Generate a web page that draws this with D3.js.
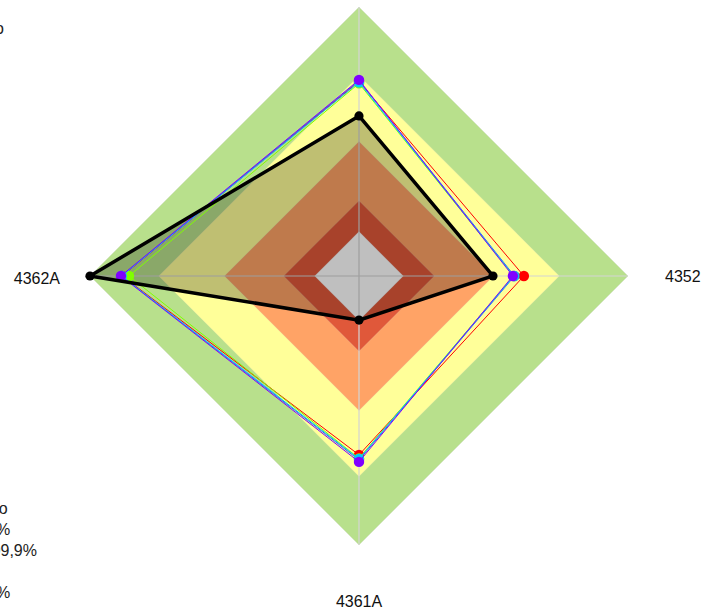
<!DOCTYPE html>
<html>
<head>
<meta charset="utf-8">
<script src="https://cdn.jsdelivr.net/npm/d3@7"></script>
<style>
  body { margin: 0; background: #fff; }
  svg { display: block; font-family: "Liberation Sans", Arial, sans-serif; }
</style>
</head>
<body>
<svg id="chart" width="701" height="610"></svg>
<script>
// axes, clockwise from the top
const axes = ['4353', '4352', '4361A', '4362A'];

// background bands (outer edge of each band, 0-100)
const bandLevels = [100, 74.5, 50, 28, 16.5];
const bandColors = ['#b8e08c', '#ffff99', '#ffa366', '#e0583a', '#ffffff'];

// legend texts (only their right ends are visible in the frame)
const legendTitle = 'Perfil de rendimiento por grupo';
const bandLabels = ['Intervalo', '16 - 50%', '84,1 - 99,9%', '< 2%', '50 - 84%'];

// series values per axis (top, right, bottom, left)
const seriesColors = ['#ff0000', '#2f5cff', '#80ff00', '#00c8ff', '#8000ff', '#000000'];
const series1 = [72.3, 61.3, 66.5, 88.0];
const series2 = [72.6, 57.8, 68.4, 88.3];
const series3 = [71.6, 57.5, 67.8, 85.5];
const series4 = [72.0, 57.6, 68.0, 88.2];
const series5 = [72.9, 57.2, 69.1, 88.5];
const series6 = [59.5, 49.8, 16.4, 100];
const seriesValues = [series1, series2, series3, series4, series5, series6];

const svg = d3.select('#chart');
const cx = 359, cy = 276, R = 269;

const r = d3.scaleLinear().domain([0, 100]).range([0, R]);
const step = 2 * Math.PI / axes.length;
const ang = (d, i) => i * step;

const g = svg.append('g').attr('transform', `translate(${cx},${cy})`);

const radial = d3.lineRadial()
    .angle(ang)
    .curve(d3.curveLinearClosed);

const line = d3.lineRadial()
    .angle((d, i) => i * step)
    .radius(d => r(d))
    .curve(d3.curveLinearClosed);

// bands
g.selectAll('path.band')
    .data(bandLevels)
    .enter()
    .append('path')
    .attr('class', 'band')
    .attr('d', lv => radial.radius(() => r(lv))(axes))
    .attr('fill', (d, i) => bandColors[i])
    .attr('stroke', '#c8c8c8')
    .attr('stroke-opacity', 0.35)
    .attr('stroke-width', 0.6);

// axis spokes
g.selectAll('line.spoke')
    .data(axes)
    .enter()
    .append('line')
    .attr('class', 'spoke')
    .attr('x1', 0).attr('y1', 0)
    .attr('x2', (d, i) => r(100) * Math.sin(ang(d, i)))
    .attr('y2', (d, i) => -r(100) * Math.cos(ang(d, i)))
    .attr('stroke', '#d4d4d4')
    .attr('stroke-width', 1.2);

const mainIdx = seriesValues.length - 1;

// shaded area of the main series goes under the other lines
g.append('path')
    .attr('d', line(seriesValues[mainIdx]))
    .attr('fill', 'rgba(0,0,0,0.25)')
    .attr('stroke', 'none');

// series lines and points
seriesValues.forEach((vals, s) => {
    const col = seriesColors[s];
    const isMain = s === mainIdx;

    g.append('path')
        .attr('d', line(vals))
        .attr('fill', 'none')
        .attr('stroke', col)
        .attr('stroke-width', isMain ? 3.5 : 1)
        .attr('stroke-linejoin', 'miter');

    g.selectAll(null)
        .data(vals)
        .enter()
        .append('circle')
        .attr('cx', (d, i) => r(d) * Math.sin(i * step))
        .attr('cy', (d, i) => -r(d) * Math.cos(i * step))
        .attr('r', isMain ? 4.6 : 5.2)
        .attr('fill', col);
});

// axis labels (the top one sits above the frame, as in the original crop)
const labelPos = [
    { x: 0, y: -R - 50, anchor: 'middle' },
    { x: R + 37, y: 6, anchor: 'start' },
    { x: 0, y: R + 62, anchor: 'middle' },
    { x: -R - 30, y: 8, anchor: 'end' }
];
g.selectAll('text.axis')
    .data(axes)
    .enter()
    .append('text')
    .attr('class', 'axis')
    .attr('x', (d, i) => labelPos[i].x)
    .attr('y', (d, i) => labelPos[i].y)
    .attr('text-anchor', (d, i) => labelPos[i].anchor)
    .attr('font-size', 16)
    .attr('fill', '#111')
    .text(d => d);

// legend fragments at the left edge
svg.append('text')
    .attr('x', 4)
    .attr('y', 34)
    .attr('text-anchor', 'end')
    .attr('font-size', 16)
    .attr('fill', '#222')
    .text(legendTitle);

const leg = svg.append('g');
const legTexts = leg.selectAll('text')
    .data(bandLabels)
    .enter()
    .append('text')
    .attr('y', (d, i) => 514 + i * 21)
    .attr('font-size', 16)
    .attr('fill', '#222')
    .text(d => d);
const w3 = legTexts.nodes()[2].getComputedTextLength();
legTexts.attr('x', 37 - w3);
</script>
</body>
</html>
